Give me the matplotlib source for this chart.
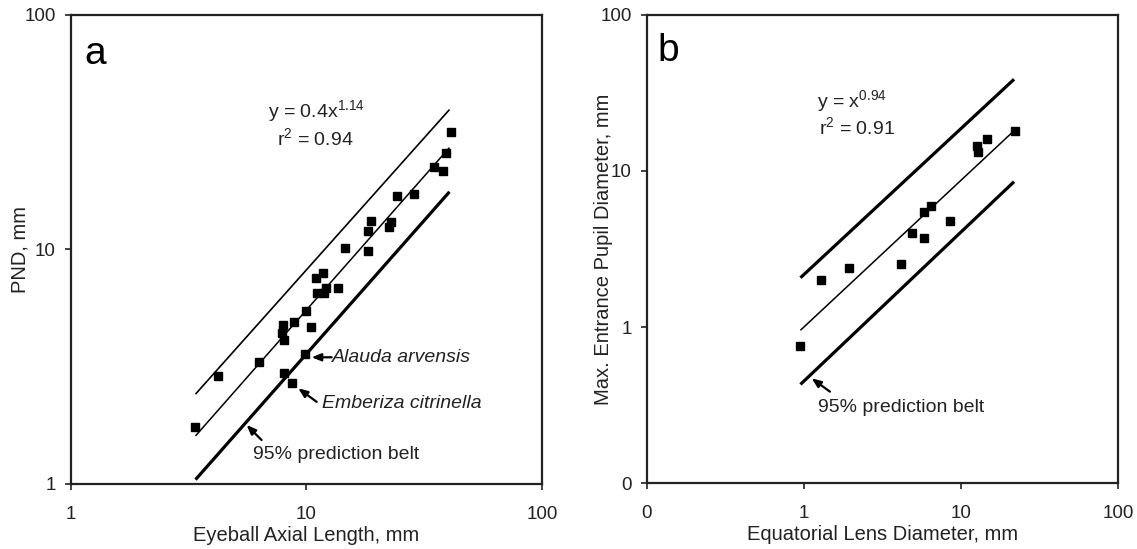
import numpy as np
import matplotlib
matplotlib.use("Agg")
import matplotlib.pyplot as plt
from matplotlib.ticker import FixedLocator, FixedFormatter, NullLocator

plt.rcParams['font.family'] = ['Liberation Sans', 'DejaVu Sans']
plt.rcParams['mathtext.fontset'] = 'custom'
plt.rcParams['mathtext.rm'] = 'Liberation Sans'
plt.rcParams['mathtext.it'] = 'Liberation Sans:italic'

# panel a: eyeball axial length vs PND (mm)
eye_len = [3.38, 4.22, 6.31, 7.97, 7.85, 8.03, 8.88, 10.0, 10.45, 9.85,
           8.05, 8.65, 10.97, 11.72, 11.05, 11.87, 12.1, 13.65, 14.53, 18.19,
           18.73, 18.19, 22.4, 22.78, 24.15, 28.7, 34.9, 38.1, 39.0, 41.0]
pnd = [1.75, 2.89, 3.32, 4.76, 4.39, 4.11, 4.92, 5.48, 4.69, 3.58,
       2.98, 2.69, 7.54, 7.91, 6.51, 6.51, 6.87, 6.83, 10.18, 11.99,
       13.27, 9.85, 12.51, 13.14, 16.96, 17.2, 22.5, 21.6, 25.7, 31.6]

# panel b: equatorial lens diameter vs max entrance pupil diameter (mm)
lens_d = [0.95, 1.28, 1.94, 4.13, 4.85, 5.84, 5.81, 6.44, 8.51, 12.6, 12.77, 14.7, 22.2]
pupil_d = [0.75, 2.0, 2.4, 2.52, 4.02, 3.7, 5.49, 5.99, 4.8, 14.5, 13.3, 16.0, 18.0]

# power lines y = c * x^k  (fit, upper and lower 95% belt)
fit_a = (0.4, 1.14)
upper_a = (0.614, 1.125)
lower_a = (0.261, 1.138)
xrange_a = (3.38, 40.5)

fit_b = (1.0, 0.94)
upper_b = (2.17, 0.935)
lower_b = (0.45, 0.955)
xrange_b = (0.95, 21.8)

TXT = '#222222'


def power_line(ax, params, xr, lw):
    x = np.geomspace(xr[0], xr[1], 50)
    ax.plot(x, params[0] * x ** params[1], color='black', lw=lw, solid_capstyle='butt')


def style_axes(ax, ticks, labels):
    ax.set_xscale('log')
    ax.set_yscale('log')
    ax.set_xlim(ticks[0], ticks[-1])
    ax.set_ylim(ticks[0], ticks[-1])
    for a in (ax.xaxis, ax.yaxis):
        a.set_major_locator(FixedLocator(ticks))
        a.set_major_formatter(FixedFormatter(labels))
        a.set_minor_locator(NullLocator())
    for s in ax.spines.values():
        s.set_linewidth(1.6)
        s.set_color(TXT)
    ax.tick_params(axis='both', direction='out', length=4, width=1.2,
                   color=TXT, labelsize=13.5, labelcolor=TXT)
    ax.tick_params(axis='x', pad=12)
    ax.tick_params(axis='y', pad=7)


fig = plt.figure(figsize=(11.37, 5.49), dpi=100)
ax1 = fig.add_axes([0.0624, 0.1184, 0.4142, 0.8543])
ax2 = fig.add_axes([0.5690, 0.1202, 0.4142, 0.8525])

arrow = dict(arrowstyle='-|>,head_length=0.55,head_width=0.22', color='black', lw=1.6,
             shrinkA=0, shrinkB=0)

# ---- panel a
style_axes(ax1, [1, 10, 100], ['1', '10', '100'])
power_line(ax1, upper_a, xrange_a, 1.2)
power_line(ax1, fit_a, xrange_a, 1.1)
power_line(ax1, lower_a, xrange_a, 2.3)
ax1.plot(eye_len, pnd, 's', color='black', ms=5.5, zorder=3)
ax1.set_xlabel('Eyeball Axial Length, mm', fontsize=14.5, color=TXT)
ax1.set_ylabel('PND, mm', fontsize=14.5, color=TXT)
ax1.xaxis.set_label_coords(0.5, -0.09)
ax1.yaxis.set_label_coords(-0.087, 0.5)
ax1.text(0.028, 0.917, 'a', transform=ax1.transAxes, fontsize=28, va='center')
ax1.text(0.418, 0.795, 'y = 0.4x$^{1.14}$', transform=ax1.transAxes, fontsize=14, va='center', color=TXT)
ax1.text(0.437, 0.738, 'r$^{2}$ = 0.94', transform=ax1.transAxes, fontsize=14, va='center', color=TXT)

ax1.annotate('', xy=(10.52, 3.47), xytext=(12.8, 3.47), arrowprops=arrow)
ax1.text(12.9, 3.47, 'Alauda arvensis', fontsize=14, style='italic', va='center', color=TXT)
ax1.annotate('', xy=(9.23, 2.56), xytext=(11.05, 2.24), arrowprops=arrow)
ax1.text(11.6, 2.215, 'Emberiza citrinella', fontsize=14, style='italic', va='center', color=TXT)
ax1.annotate('', xy=(5.57, 1.785), xytext=(6.45, 1.54), arrowprops=arrow)
ax1.text(5.93, 1.33, '95% prediction belt', fontsize=14, va='center', color=TXT)

# ---- panel b
style_axes(ax2, [0.1, 1, 10, 100], ['0', '1', '10', '100'])
power_line(ax2, upper_b, xrange_b, 2.3)
power_line(ax2, fit_b, xrange_b, 1.1)
power_line(ax2, lower_b, xrange_b, 2.3)
ax2.plot(lens_d, pupil_d, 's', color='black', ms=5.5, zorder=3)
ax2.set_xlabel('Equatorial Lens Diameter, mm', fontsize=14.5, color=TXT)
ax2.set_ylabel('Max. Entrance Pupil Diameter, mm', fontsize=14.5, color=TXT)
ax2.xaxis.set_label_coords(0.5, -0.09)
ax2.yaxis.set_label_coords(-0.072, 0.5)
ax2.text(0.023, 0.923, 'b', transform=ax2.transAxes, fontsize=28, va='center')
ax2.text(0.361, 0.816, 'y = x$^{0.94}$', transform=ax2.transAxes, fontsize=14, va='center', color=TXT)
ax2.text(0.365, 0.761, 'r$^{2}$ = 0.91', transform=ax2.transAxes, fontsize=14, va='center', color=TXT)
ax2.annotate('', xy=(1.12, 0.469), xytext=(1.464, 0.385), arrowprops=arrow)
ax2.text(1.23, 0.307, '95% prediction belt', fontsize=14, va='center', color=TXT)

fig.savefig('out.png', dpi=100)
